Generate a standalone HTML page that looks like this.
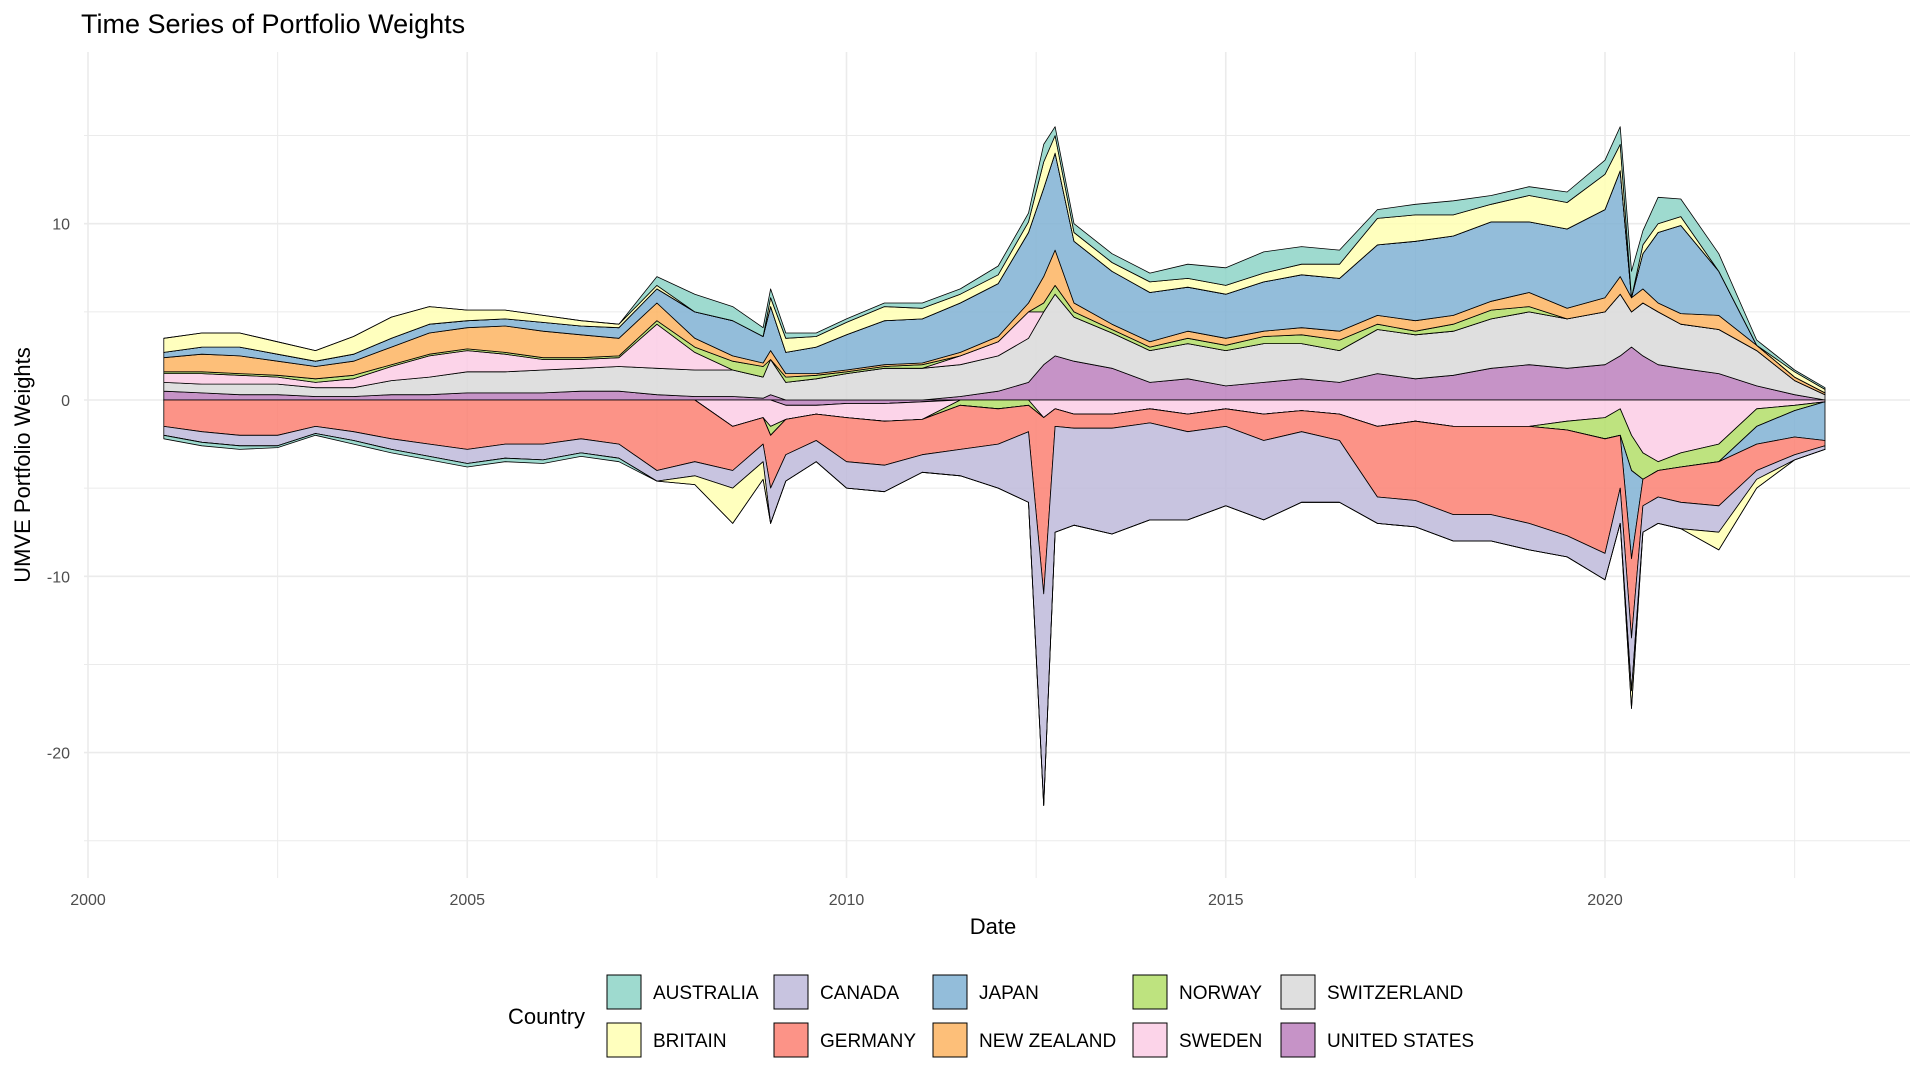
<!DOCTYPE html>
<html><head><meta charset="utf-8"><style>
body{margin:0;background:#fff;}
svg text{font-family:"Liberation Sans",sans-serif;}
</style></head><body>
<svg id="chart" width="1920" height="1080" xmlns="http://www.w3.org/2000/svg">
<rect width="1920" height="1080" fill="#fff"/>
<g id="grid"></g>
<g id="areas"></g>
<g id="axes"></g>
<text x="81" y="33" font-size="27" fill="#000">Time Series of Portfolio Weights</text>
<text x="993" y="934" font-size="22" text-anchor="middle" fill="#000">Date</text>
<text transform="translate(30,465) rotate(-90)" font-size="22" text-anchor="middle" fill="#000">UMVE Portfolio Weights</text>
<g id="legend">
<text x="508" y="1024" font-size="22" fill="#000">Country</text>
</g>
</svg>
<script>
const dates = [2001.0,2001.5,2002.0,2002.5,2003.0,2003.5,2004.0,2004.5,2005.0,2005.5,2006.0,2006.5,2007.0,2007.5,2008.0,2008.5,2008.9,2009.0,2009.2,2009.6,2010.0,2010.5,2011.0,2011.5,2012.0,2012.4,2012.6,2012.75,2013.0,2013.5,2014.0,2014.5,2015.0,2015.5,2016.0,2016.5,2017.0,2017.5,2018.0,2018.5,2019.0,2019.5,2020.0,2020.2,2020.35,2020.5,2020.7,2021.0,2021.5,2022.0,2022.5,2022.9];
const countries = ["AUSTRALIA","BRITAIN","CANADA","GERMANY","JAPAN","NEW ZEALAND","NORWAY","SWEDEN","SWITZERLAND","UNITED STATES"];
const colors = ["#8DD3C7","#FFFFB3","#BEBADA","#FB8072","#80B1D3","#FDB462","#B3DE69","#FCCDE5","#D9D9D9","#BC80BD"];
const australia = [-0.2,-0.2,-0.2,-0.1,-0.1,-0.2,-0.2,-0.2,-0.2,-0.2,-0.2,-0.2,-0.2,0.5,1.0,0.8,0.5,0.5,0.3,0.2,0.2,0.2,0.3,0.3,0.5,0.5,1.0,0.5,0.5,0.5,0.5,0.8,1.0,1.2,1.0,0.8,0.5,0.6,0.8,0.5,0.5,0.6,0.8,1.0,1.5,0.8,1.5,1.0,1.0,0.3,0.1,0.1];
const britain = [0.8,0.8,0.8,0.7,0.6,1.0,1.2,1.0,0.6,0.5,0.4,0.3,0.2,0.2,-0.5,-2.0,-1.0,0.5,0.8,0.6,0.7,0.8,0.6,0.5,0.5,0.6,1.5,1.0,0.5,0.5,0.6,0.5,0.5,0.5,0.6,0.8,1.5,1.5,1.2,1.0,1.5,1.5,2.0,1.5,-1.0,0.5,0.5,0.5,-1.0,-0.5,0.3,0.2];
const canada = [-0.5,-0.6,-0.6,-0.6,-0.4,-0.5,-0.6,-0.7,-0.8,-0.8,-0.9,-0.8,-0.8,-0.6,-0.8,-1.0,-1.0,-2.0,-1.5,-1.2,-1.5,-1.5,-1.0,-1.5,-2.5,-4.0,-12.0,-6.0,-5.5,-6.0,-5.5,-5.0,-4.5,-4.5,-4.0,-3.5,-1.5,-1.5,-1.5,-1.5,-1.5,-1.2,-1.5,-2.0,-3.0,-1.5,-1.5,-1.5,-1.5,-0.5,-0.3,-0.2];
const germany = [-1.5,-1.8,-2.0,-2.0,-1.5,-1.8,-2.2,-2.5,-2.8,-2.5,-2.5,-2.2,-2.5,-4.0,-3.5,-2.5,-1.5,-3.0,-2.0,-1.5,-2.5,-2.5,-2.0,-2.5,-2.0,-1.5,-10.0,-1.0,-0.8,-0.8,-0.8,-1.0,-1.0,-1.5,-1.2,-1.5,-4.0,-4.5,-5.0,-5.0,-5.5,-6.0,-6.5,-3.0,-4.5,-1.5,-1.5,-2.0,-2.5,-1.5,-1.0,-0.3];
const japan = [0.3,0.4,0.5,0.4,0.3,0.4,0.5,0.5,0.4,0.4,0.5,0.5,0.6,0.8,1.5,2.0,1.5,2.5,1.2,1.5,2.0,2.5,2.5,2.8,3.0,4.0,5.0,5.5,3.5,3.0,2.8,2.5,2.5,2.8,3.0,3.0,4.0,4.5,4.5,4.5,4.0,4.5,5.0,6.0,-5.0,2.0,4.0,5.0,2.5,-1.0,-1.5,-2.2];
const newZealand = [0.8,1.0,1.0,0.8,0.7,0.8,1.0,1.2,1.2,1.5,1.5,1.3,1.0,1.0,0.5,0.3,0.2,0.5,0.2,0.1,0.1,0.1,0.1,0.2,0.3,0.5,1.5,2.0,0.5,0.3,0.3,0.4,0.4,0.3,0.4,0.5,0.5,0.6,0.5,0.5,0.8,0.6,0.8,1.0,0.8,0.8,0.5,0.6,0.8,0.3,0.2,0.1];
const norway = [0.1,0.1,0.1,0.1,0.2,0.2,0.1,0.1,0.1,0.1,0.1,0.1,0.1,0.2,0.3,0.5,0.6,-0.5,0.3,0.2,0.1,0.1,0.2,-0.3,-0.5,-0.3,0.5,0.5,0.3,0.2,0.2,0.3,0.3,0.4,0.5,0.6,0.3,0.2,0.4,0.5,0.3,-0.5,-1.2,-1.5,-2.0,-1.5,-0.5,-0.8,-1.0,-1.0,-0.3,0];
const sweden = [0.5,0.6,0.5,0.4,0.3,0.5,0.8,1.2,1.2,1.0,0.6,0.5,0.5,2.5,1.0,-1.5,-1.0,-1.5,-0.8,-0.5,-0.8,-1.0,-1.0,0.5,0.8,1.5,-1.0,-0.5,-0.8,-0.8,-0.5,-0.8,-0.5,-0.8,-0.6,-0.8,-1.5,-1.2,-1.5,-1.5,-1.5,-1.2,-1.0,-0.5,-2.0,-3.0,-3.5,-3.0,-2.5,-0.5,-0.3,-0.1];
const switzerland = [0.5,0.5,0.6,0.6,0.5,0.5,0.8,1.0,1.2,1.2,1.3,1.3,1.4,1.5,1.5,1.5,1.2,2.0,1.0,1.2,1.5,1.8,1.8,1.8,2.0,2.5,3.0,3.5,2.5,2.0,1.8,2.0,2.0,2.2,2.0,1.8,2.5,2.5,2.5,2.8,3.0,2.8,3.0,3.5,2.0,3.0,3.0,2.5,2.5,2.0,0.8,0.3];
const unitedStates = [0.5,0.4,0.3,0.3,0.2,0.2,0.3,0.3,0.4,0.4,0.4,0.5,0.5,0.3,0.2,0.2,0.1,0.3,-0.3,-0.3,-0.2,-0.2,-0.1,0.2,0.5,1.0,2.0,2.5,2.2,1.8,1.0,1.2,0.8,1.0,1.2,1.0,1.5,1.2,1.4,1.8,2.0,1.8,2.0,2.5,3.0,2.5,2.0,1.8,1.5,0.8,0.3,0];
const xTicks = [2000,2005,2010,2015,2020];
const xTickLabels = ["2000","2005","2010","2015","2020"];
const yTicks = [-20,-10,0,10];
const yTickLabels = ["-20","-10","0","10"];

const series = [australia,britain,canada,germany,japan,newZealand,norway,sweden,switzerland,unitedStates];
const NS = "http://www.w3.org/2000/svg";
const X0 = 88, XPY = 75.85, Y0 = 400, YPU = 17.63;
function xs(v){ return X0 + (v - 2000) * XPY; }
function ys(v){ return Y0 - v * YPU; }
function mk(tag, attrs, parent){ const e = document.createElementNS(NS, tag); for (const k in attrs) e.setAttribute(k, attrs[k]); parent.appendChild(e); return e; }

const grid = document.getElementById('grid');
const PL = 88, PR = 1910, PT = 52, PB = 878;
for (let yr = 2002.5; yr <= 2023; yr += 5) {
  const l = mk('line', {x1: xs(yr), x2: xs(yr), y1: PT, y2: PB, stroke: '#EBEBEB', 'stroke-width': 1}, grid);
  
  
}
for (let v = -25; v <= 15; v += 10) {
  const l = mk('line', {x1: PL - 4, x2: PR, y1: ys(v), y2: ys(v), stroke: '#EBEBEB', 'stroke-width': 1}, grid);
  
  
}
xTicks.forEach((t) => {
  const l = mk('line', {x1: xs(t), x2: xs(t), y1: PT, y2: PB, stroke: '#EBEBEB', 'stroke-width': 1.6}, grid);
  
  
});
yTicks.forEach((t) => {
  const l = mk('line', {x1: PL - 4, x2: PR, y1: ys(t), y2: ys(t), stroke: '#EBEBEB', 'stroke-width': 1.6}, grid);
  
  
});

// stacking: positive and negative parts stacked separately; last country closest to zero
const n = dates.length;
const pos = new Array(n).fill(0), neg = new Array(n).fill(0);
const areas = document.getElementById('areas');
const polys = [];
for (let s = series.length - 1; s >= 0; s--) {
  const pLo = [], pHi = [], nLo = [], nHi = [];
  for (let i = 0; i < n; i++) {
    const v = series[s][i];
    const pv = Math.max(v, 0), nv = Math.min(v, 0);
    pLo[i] = pos[i]; pHi[i] = pos[i] + pv; pos[i] += pv;
    nHi[i] = neg[i]; nLo[i] = neg[i] + nv; neg[i] += nv;
  }
  polys.push({s: s, hi: pHi, lo: pLo});
  polys.push({s: s, hi: nHi, lo: nLo});
}
polys.forEach((pp) => {
  let pts = [];
  for (let i = 0; i < n; i++) pts.push(xs(dates[i]).toFixed(1) + ',' + ys(pp.hi[i]).toFixed(1));
  for (let i = n - 1; i >= 0; i--) pts.push(xs(dates[i]).toFixed(1) + ',' + ys(pp.lo[i]).toFixed(1));
  const p = mk('polygon', {points: pts.join(' '), fill: colors[pp.s], 'fill-opacity': 0.85, stroke: '#000', 'stroke-width': 0.8, 'stroke-linejoin': 'round'}, areas);
  
  
});

const axes = document.getElementById('axes');
xTicks.forEach((t, i) => {
  const tx = mk('text', {x: xs(t), y: 905, 'font-size': 16, 'text-anchor': 'middle', fill: '#4D4D4D'}, axes);
  tx.textContent = xTickLabels[i];
  
  
});
yTicks.forEach((t, i) => {
  const tx = mk('text', {x: 70, y: ys(t) + 6, 'font-size': 16, 'text-anchor': 'end', fill: '#4D4D4D'}, axes);
  tx.textContent = yTickLabels[i];
  
  
});

const legend = document.getElementById('legend');
const colX = [607, 774, 933, 1133, 1281];
const rowY = [975, 1023];
countries.forEach((c, i) => {
  const col = Math.floor(i / 2), row = i % 2;
  const g = mk('g', {}, legend);
  
  
  const r = mk('rect', {x: colX[col], y: rowY[row], width: 34, height: 34, fill: colors[i], 'fill-opacity': 0.85, stroke: '#000', 'stroke-width': 1}, g);
  
  
  const t = mk('text', {x: colX[col] + 46, y: rowY[row] + 24, 'font-size': 19, fill: '#000'}, g);
  t.textContent = c;
  
  
});
</script>
</body></html>
